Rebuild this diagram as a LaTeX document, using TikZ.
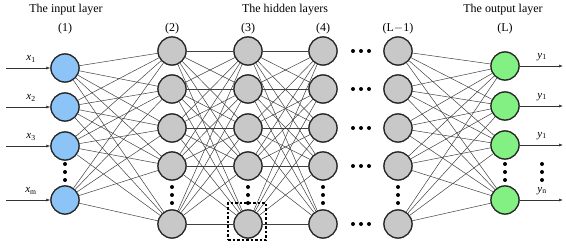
\documentclass[tikz,border=0pt]{standalone}
\usepackage{fontspec}
\setmainfont{Liberation Serif}
\usetikzlibrary{arrows.meta}
\definecolor{inblue}{RGB}{140,196,248}
\definecolor{hidgray}{RGB}{200,200,200}
\definecolor{outgreen}{RGB}{130,240,130}
\begin{document}
\begin{tikzpicture}[x=1pt,y=-1pt,
  neuron/.style={circle,draw=black!85,line width=1.2pt,minimum size=28pt,inner sep=0pt},
  inneuron/.style={neuron,fill=inblue},
  hidneuron/.style={neuron,fill=hidgray},
  outneuron/.style={neuron,fill=outgreen},
  link/.style={draw=black!75,line width=0.5pt},
  io/.style={draw=black!80,line width=0.6pt,-{Latex[length=4pt,width=3pt]}},
  title/.style={font=\fontsize{12}{14}\selectfont,inner sep=0pt},
  lab/.style={font=\fontsize{11}{13}\selectfont,inner sep=0pt},
  dot/.style={circle,fill=black,inner sep=0pt,minimum size=4pt}
]
\useasboundingbox (0,0) rectangle (566,249);
% titles
\node[title] (t1) at (66,10) {The input layer};
\node[title] (t2) at (285,10) {The hidden layers};
\node[title] (t3) at (503,10) {The output layer};
\node[title] (n1) at (65,29) {(1)};
\node[title] (n2) at (172,29) {(2)};
\node[title] (n3) at (248,29) {(3)};
\node[title] (n4) at (323,29) {(4)};
\node[title] (n5) at (398,29) {(L$-$1)};
\node[title] (n6) at (505,29) {(L)};
% input layer
\foreach \i/\y in {1/68,2/107,3/146,4/200} {\node[inneuron] (a\i) at (65,\y) {};}
% hidden layers
\foreach \L/\x in {b/172,c/248,d/323,e/398} {
  \foreach \i/\y in {1/51,2/89,3/128,4/166,5/224} {\node[hidneuron] (\L\i) at (\x,\y) {};}
}
% output layer
\foreach \i/\y in {1/66,2/106,3/145,4/200} {\node[outneuron] (f\i) at (505,\y) {};}
% connections
\begin{scope}[on background layer/.style={}]
\foreach \i in {1,...,4} {\foreach \j in {1,...,5} {\draw[link] (a\i) -- (b\j);}}
\foreach \i in {1,...,5} {\foreach \j in {1,...,5} {\draw[link] (b\i) -- (c\j); \draw[link] (c\i) -- (d\j);}}
\foreach \i in {1,...,5} {\foreach \j in {1,...,4} {\draw[link] (e\i) -- (f\j);}}
\end{scope}
% redraw nodes over lines
\foreach \i/\y in {1/68,2/107,3/146,4/200} {\node[inneuron] at (65,\y) {};}
\foreach \L/\x in {b/172,c/248,d/323,e/398} {
  \foreach \i/\y in {1/51,2/89,3/128,4/166,5/224} {\node[hidneuron] at (\x,\y) {};}
}
\foreach \i/\y in {1/66,2/106,3/145,4/200} {\node[outneuron] at (505,\y) {};}
% inputs
\foreach \i/\y/\t in {1/68/1,2/107/2,3/146/3,4/200/m} {
  \coordinate (in\i) at (6,\y);
  \draw[io] (in\i) -- (a\i);
  \node[lab] (xl\i) at (31,\y-9) {\textit{x}\textsubscript{\t}};
}
% outputs
\foreach \i/\y/\t in {1/66/1,2/106/1,3/145/1,4/200/n} {
  \coordinate (out\i) at (563,\y);
  \draw[io] (f\i) -- (out\i);
  \node[lab] (yl\i) at (542,\y-9) {\textit{y}\textsubscript{\t}};
}
% vertical dots
\foreach \x/\a/\b/\c in {65/164/172/180, 172/187/195/203, 248/187/195/203, 323/187/195/203, 398/187/195/203, 505/164/172/180, 542/164/172/180} {
  \node[dot] at (\x,\a) {}; \node[dot] at (\x,\b) {}; \node[dot] at (\x,\c) {};
}
% horizontal dots
\foreach \y in {51,89,128,166,224} {
  \node[dot] at (353,\y) {}; \node[dot] at (361,\y) {}; \node[dot] at (369,\y) {};
}
% dashed box
\node[draw=black,dashed,line width=1.2pt,dash pattern=on 2.5pt off 2pt,minimum width=38pt,minimum height=37pt,inner sep=0pt] (box) at (247,221.5) {};
\end{tikzpicture}
\end{document}
